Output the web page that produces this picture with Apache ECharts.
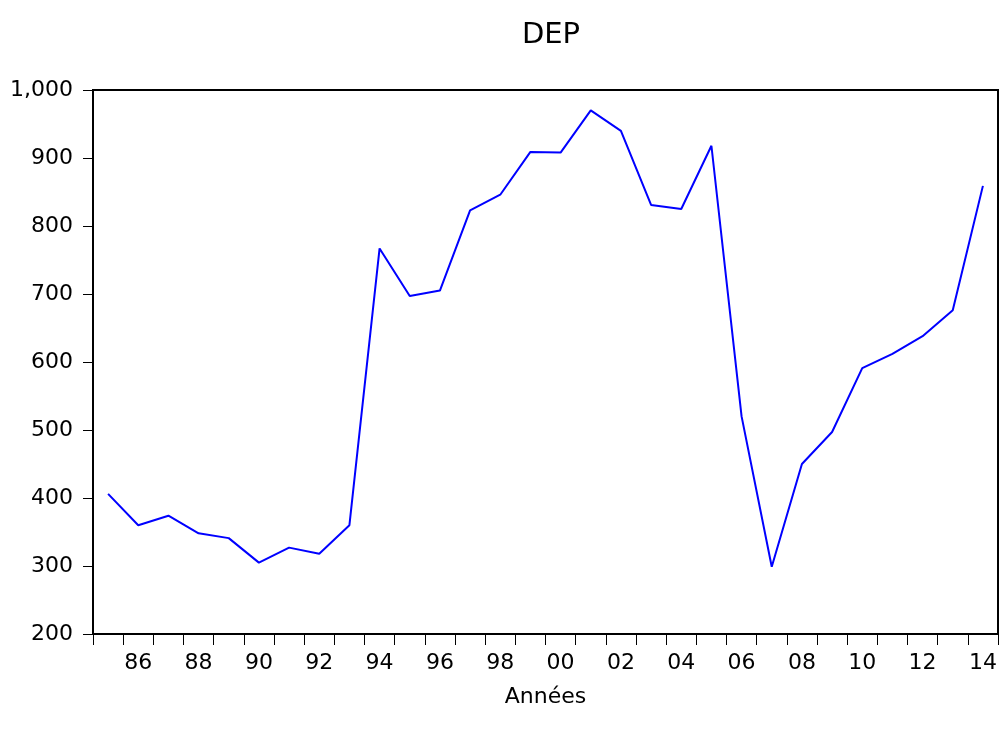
<!DOCTYPE html>
<html>
<head>
<meta charset="utf-8">
<script src="https://cdn.jsdelivr.net/npm/echarts@6/dist/echarts.min.js"></script>
<style>html,body{margin:0;padding:0;background:#fff}#c{width:1000px;height:733px}</style>
</head>
<body>
<div id="c"></div>
<script>
const years = ['85','86','87','88','89','90','91','92','93','94','95','96','97','98','99','00','01','02','03','04','05','06','07','08','09','10','11','12','13','14'];
const dep = [406,360,374,348,341,305,327,318,360,767,697,705,823,846,909,908,970,940,831,825,918,520,299,450,497,591,612,638,676,859];
const yTicks = [200,300,400,500,600,700,800,900,1000];
const titleText = 'DEP';
const xName = 'Années';

const chart = echarts.init(document.getElementById('c'), null, {renderer: 'canvas'});
const fam = '"DejaVu Sans", Arial, sans-serif';
chart.setOption({
  animation: false,
  backgroundColor: '#fff',
  title: {
    text: titleText, left: 546, top: 16, textAlign: 'center',
    textStyle: {fontFamily: fam, fontSize: 29, fontWeight: 'normal', color: '#000'}
  },
  grid: {left: 93, right: 2, top: 90, bottom: 99, show: true, borderColor: '#000', borderWidth: 2, backgroundColor: 'transparent'},
  xAxis: {
    type: 'category', data: years, boundaryGap: true,
    name: xName, nameLocation: 'middle', nameGap: 52,
    nameTextStyle: {fontFamily: fam, fontSize: 22, color: '#000'},
    axisLine: {show: true, lineStyle: {color: '#000', width: 2}},
    axisTick: {show: true, interval: 0, length: 11, lineStyle: {color: '#000', width: 1}},
    axisLabel: {
      interval: function (i) { return i % 2 === 1; },
      margin: 18, fontFamily: fam, fontSize: 22, color: '#000'
    },
    splitLine: {show: false}
  },
  yAxis: {
    type: 'value', min: yTicks[0], max: yTicks[yTicks.length - 1], interval: 100,
    axisLine: {show: true, lineStyle: {color: '#000', width: 2}},
    axisTick: {show: true, length: 10, lineStyle: {color: '#000', width: 1}},
    axisLabel: {
      margin: 20, fontFamily: fam, fontSize: 22, color: '#000',
      formatter: function (v) { return v.toLocaleString('en-US'); }
    },
    splitLine: {show: false}
  },
  series: [{
    type: 'line', data: dep, showSymbol: false, symbol: 'none',
    lineStyle: {color: '#0000ff', width: 2}, itemStyle: {color: '#0000ff'}
  }]
});
</script>
</body>
</html>
